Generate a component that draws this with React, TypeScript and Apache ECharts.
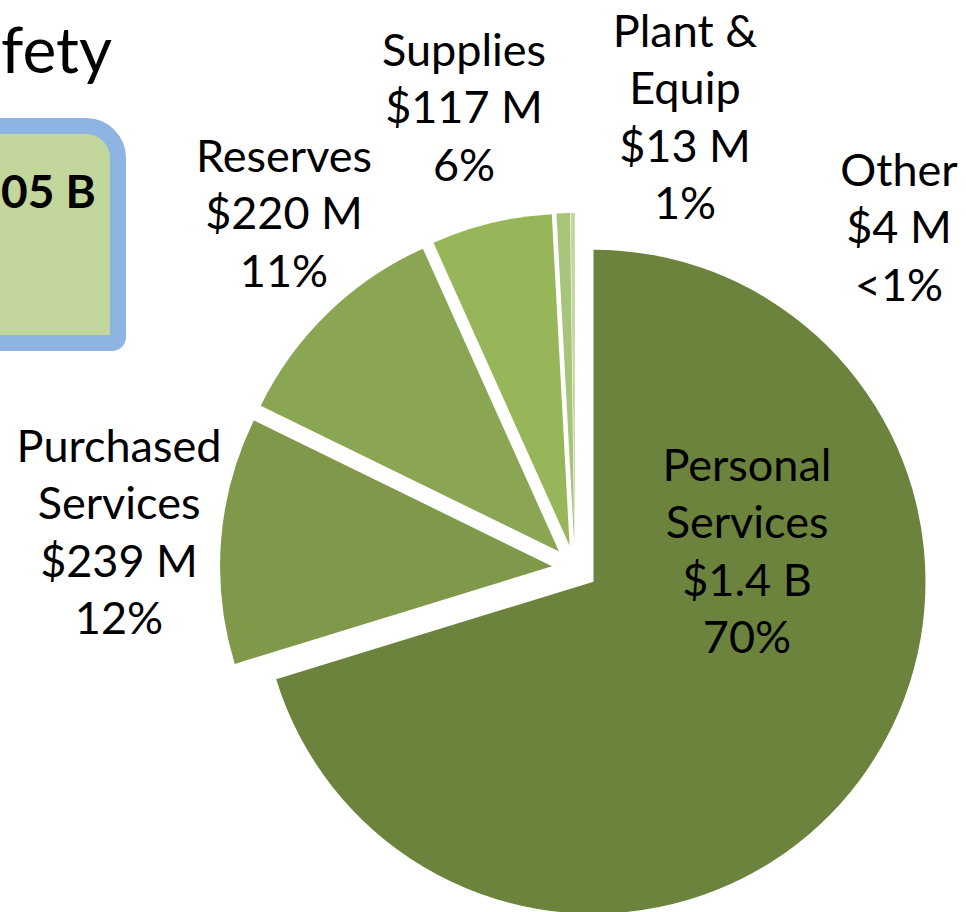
import React, { useEffect, useRef } from "react";
import * as echarts from "echarts";

// Data (amounts in $ millions)
const categories = ["Personal\nServices", "Purchased\nServices", "Reserves", "Supplies", "Plant &\nEquip", "Other"];
const amounts = [1400, 239, 220, 117, 13, 4];
const amountLabels = ["$1.4 B", "$239 M", "$220 M", "$117 M", "$13 M", "$4 M"];
const percentLabels = ["70%", "12%", "11%", "6%", "1%", "<1%"];
const sliceColors = ["#6B833C", "#7F9849", "#8BA652", "#97B65A", "#A6C47A", "#C3D69B"];
const titleFragment = "fety";
const totalFragment = "05 B";

// label anchor positions (centre of each label block)
const labelAnchors: [number, number][] = [
  [747, 550],
  [119, 531],
  [284, 212],
  [464, 106],
  [685, 116],
  [899, 226],
];

const FONT = "Lato, 'Open Sans', sans-serif";

export default function App() {
  const ref = useRef<HTMLDivElement>(null);
  useEffect(() => {
    if (!ref.current) return;
    const chart = echarts.init(ref.current, undefined, { renderer: "svg" });
    const labelTexts = categories.map((c, i) => ({
      type: "text",
      x: labelAnchors[i][0],
      y: labelAnchors[i][1],
      z: 10,
      style: {
        text: `${c}\n${amountLabels[i]}\n${percentLabels[i]}`,
        align: "center",
        verticalAlign: "middle",
        font: `45px ${FONT}`,
        lineHeight: 57.5,
        fill: "#000",
      },
    }));
    chart.setOption({
      animation: false,
      backgroundColor: "#ffffff",
      graphic: [
        {
          type: "rect",
          shape: { x: -60, y: 126, width: 178, height: 217, r: [0, 32, 6, 0] },
          style: { fill: "#C3D69B", stroke: "#8EB4E3", lineWidth: 16 },
          z: 1,
        },
        {
          type: "text",
          x: 1,
          y: 190,
          style: {
            text: totalFragment,
            align: "left",
            verticalAlign: "middle",
            font: `bold 46px ${FONT}`,
            fill: "#000",
          },
          z: 2,
        },
        {
          type: "text",
          x: 112,
          y: 48,
          style: {
            text: titleFragment,
            align: "right",
            verticalAlign: "middle",
            font: `64px ${FONT}`,
            fill: "#000",
          },
          z: 2,
        },
        ...labelTexts,
      ],
      series: [
        {
          type: "pie",
          center: [575, 568],
          radius: 332,
          startAngle: 90,
          clockwise: true,
          selectedMode: "multiple",
          selectedOffset: 23,
          avoidLabelOverlap: false,
          emphasis: { disabled: true },
          select: { itemStyle: { borderWidth: 0 } },
          itemStyle: { borderWidth: 0 },
          label: { show: false },
          labelLine: { show: false },
          data: amounts.map((v, i) => ({
            name: categories[i],
            value: v,
            selected: true,
            itemStyle: { color: sliceColors[i] },
            select: { itemStyle: { color: sliceColors[i] } },
          })),
        },
      ],
    });
    return () => chart.dispose();
  }, []);
  return (
    <div
      ref={ref}
      style={{ position: "fixed", left: 0, top: 0, width: 966, height: 912, background: "#fff" }}
    />
  );
}
